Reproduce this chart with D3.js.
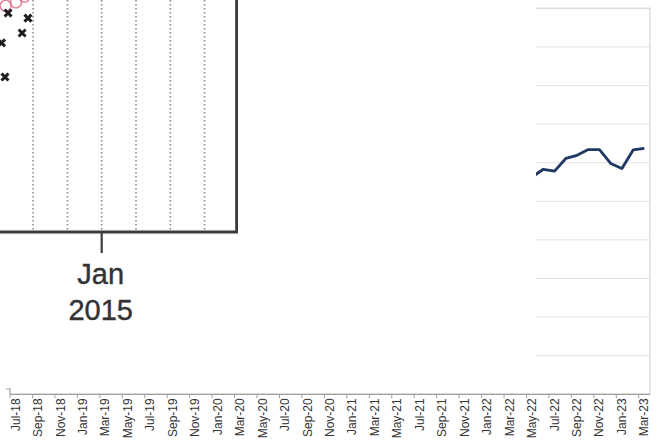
<!DOCTYPE html>
<html><head><meta charset="utf-8">
<script src="https://cdn.jsdelivr.net/npm/d3@7"></script>
<style>body{margin:0;background:#fff}svg{display:block}</style>
</head><body>
<svg id="c" width="664" height="444"></svg>
<script>
// Main chart categories (monthly, Jul-18 .. Mar-23)
const monthNames = ["Jul","Aug","Sep","Oct","Nov","Dec","Jan","Feb","Mar","Apr","May","Jun"];
const categories = [];
{
  let yr = 18;
  for (let i = 0; i < 57; i++) {
    const m = monthNames[i % 12];
    if (m === "Jan" && i > 0) yr++;
    categories.push(m + "-" + yr);
  }
}
// Visible series (navy line)
const seriesCats = ["May-22","Jun-22","Jul-22","Aug-22","Sep-22","Oct-22","Nov-22","Dec-22","Jan-23","Feb-23","Mar-23"];
const seriesVals = [56.3, 58.3, 57.8, 61.1, 61.9, 63.4, 63.4, 59.8, 58.5, 63.3, 63.7];
const yTicks = [0,10,20,30,40,50,60,70,80,90,100];

// Pasted fragment (Jan 2015 chart)
const fragMonths = [-2, -1, 0, 1, 2, 3];          // dotted month lines, relative to Jan 2015
const fragTickLabel = ["Jan", "2015"];
const fragCrossX = [-2.15, -2.32, -2.92, -2.82, -2.73];
const fragCrossY = [92.2, 85.8, 81.5, 66.8, 94.4];
const fragCircX = [-2.25, -2.5, -2.8];
const fragCircY = [101.5, 99.0, 97.5];

const svg = d3.select("#c");
const x = d3.scaleBand().domain(categories).range([10, 650]).padding(0);
const y = d3.scaleLinear().domain([0, 100]).range([394.3, 8.3]);

// gridlines
svg.append("g").selectAll("line").data(yTicks).join("line")
  .attr("x1", 10).attr("x2", 650)
  .attr("y1", d => y(d)).attr("y2", d => y(d))
  .attr("stroke", "#e4e4e4").attr("stroke-width", 1);
// plot border
svg.append("rect").attr("x", 10).attr("y", y(100)).attr("width", 640).attr("height", y(0) - y(100))
  .attr("fill", "none").attr("stroke", "#d9d9d9").attr("stroke-width", 1.3);

// line
const line = d3.line().x((d, i) => x(seriesCats[i]) + x.bandwidth() / 2).y(d => y(d));
svg.append("path").datum(seriesVals).attr("d", line)
  .attr("fill", "none").attr("stroke", "#1f3864").attr("stroke-width", 2.8).attr("stroke-linejoin", "round");

// y axis line
svg.append("line").attr("x1", 10).attr("x2", 10).attr("y1", y(100)).attr("y2", y(0))
  .attr("stroke", "#a6a6a6");
svg.append("line").attr("x1", 6).attr("x2", 10).attr("y1", 389).attr("y2", 389).attr("stroke", "#a6a6a6");

// x axis
svg.append("line").attr("x1", 10).attr("x2", 650).attr("y1", y(0)).attr("y2", y(0))
  .attr("stroke", "#a0a0a0").attr("stroke-width", 1.2);
const tickIdx = d3.range(0, 58, 2);
svg.append("g").selectAll("line").data(tickIdx).join("line")
  .attr("x1", d => 10 + d * x.bandwidth()).attr("x2", d => 10 + d * x.bandwidth())
  .attr("y1", y(0)).attr("y2", y(0) + 4).attr("stroke", "#a0a0a0");
svg.append("g").selectAll("text").data(categories.filter((d, i) => i % 2 === 0)).join("text")
  .attr("transform", d => `translate(${x(d) + x.bandwidth() / 2},${y(0) + 4}) rotate(-90)`)
  .attr("text-anchor", "end").attr("dominant-baseline", "central")
  .attr("font-family", "Liberation Sans, Arial, sans-serif").attr("font-size", 12)
  .attr("fill", "#333").text(d => d);

// pasted fragment overlay
const frag = svg.append("g");
frag.append("rect").attr("x", 0).attr("y", 0).attr("width", 536).attr("height", 388).attr("fill", "#fff");
const fx = d3.scaleLinear().domain([0, 1]).range([101.7, 136]);
const fy = d3.scaleLinear().domain([0, 100]).range([232, 0]);
frag.append("g").selectAll("line").data(fragMonths).join("line")
  .attr("x1", d => fx(d)).attr("x2", d => fx(d)).attr("y1", 0).attr("y2", 231)
  .attr("stroke", "#8a8a8a").attr("stroke-width", 1.6).attr("stroke-dasharray", "1.5,2.5");
frag.append("g").selectAll("circle").data(fragCircX).join("circle")
  .attr("cx", d => fx(d)).attr("cy", (d, i) => fy(fragCircY[i])).attr("r", 5.5)
  .attr("fill", "none").attr("stroke", "#d9607a").attr("stroke-width", 1.6).attr("opacity", 0.75);
frag.append("g").selectAll("path").data(fragCrossX).join("path")
  .attr("transform", (d, i) => `translate(${fx(d)},${fy(fragCrossY[i])})`)
  .attr("d", "M-3.5,-3.5L3.5,3.5M-3.5,3.5L3.5,-3.5")
  .attr("stroke", "#1e1e1e").attr("stroke-width", 3);
// box border
frag.append("path").attr("d", `M0,${fy(0)}H${fx(4) - 2.3}V0`)
  .attr("fill", "none").attr("stroke", "#3c3c3c").attr("stroke-width", 2.8);
frag.append("line").attr("x1", fx(0)).attr("x2", fx(0)).attr("y1", fy(0)).attr("y2", 253)
  .attr("stroke", "#3c3c3c").attr("stroke-width", 2.2);
frag.append("g").selectAll("text").data(fragTickLabel).join("text")
  .attr("x", fx(0) - 1).attr("y", (d, i) => 284 + i * 36)
  .attr("text-anchor", "middle").attr("font-family", "Liberation Sans, Arial, sans-serif")
  .attr("font-size", 29).attr("fill", "#333").attr("stroke", "#333").attr("stroke-width", 0.4)
  .text(d => d);
</script>
</body></html>
